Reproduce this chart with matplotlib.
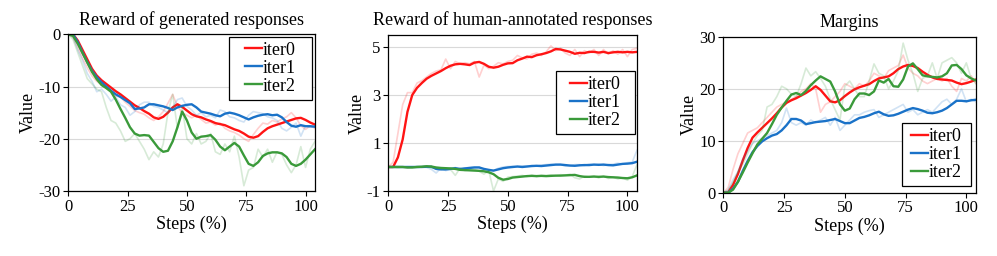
import numpy as np
import matplotlib
matplotlib.use("Agg")
import matplotlib.pyplot as plt

# steps (%) at which values were logged
steps = np.arange(0, 105, 2)

# --- Reward of generated responses ---
gen_iter0 = [0, 0, -1.2, -3.0, -4.8, -6.6, -7.9, -8.8, -9.5, -10.2, -10.9, -11.5, -12.2, -12.9, -13.6, -14.1,
             -14.7, -15.2, -15.9, -16.2, -15.8, -15.0, -14.0, -13.4, -13.9, -14.6, -15.3, -15.7, -15.9, -16.3,
             -16.6, -17.0, -17.2, -17.4, -17.8, -18.2, -18.5, -19.0, -19.6, -19.8, -19.5, -18.7, -18.0, -17.6,
             -17.3, -17.0, -16.7, -16.4, -16.1, -16.0, -16.4, -16.9, -17.3]
gen_iter1 = [0, 0, -1.5, -3.5, -5.3, -7.0, -8.2, -9.2, -10.0, -10.8, -11.5, -12.0, -12.6, -13.2, -14.3, -14.2,
             -14.0, -13.4, -13.4, -13.6, -13.8, -14.1, -14.5, -14.0, -13.7, -13.5, -13.4, -14.0, -14.8, -15.0,
             -15.2, -15.5, -15.7, -15.2, -15.0, -15.2, -15.5, -15.9, -16.3, -15.9, -15.6, -15.4, -15.3, -15.5,
             -15.4, -15.9, -16.8, -17.5, -17.7, -17.4, -17.6, -17.6, -17.7]
gen_iter2 = [0, -0.3, -1.8, -3.6, -5.4, -7.2, -8.6, -9.7, -10.3, -11.0, -12.5, -14.3, -16.0, -17.8, -19.0, -19.4,
             -19.3, -19.4, -20.6, -21.8, -22.5, -22.3, -20.5, -17.8, -14.8, -16.5, -18.8, -20.0, -19.6, -19.5,
             -19.3, -20.2, -21.5, -22.2, -21.5, -20.8, -21.5, -23.2, -24.8, -25.2, -24.5, -23.3, -22.8, -22.6,
             -22.6, -22.8, -23.5, -24.8, -25.2, -24.8, -24.0, -23.0, -22.0]
gen_iter0_raw = [0, -0.6, -2.5, -4.6, -6.4, -8.0, -9.0, -9.6, -10.3, -11.0, -11.8, -12.0, -13.0, -13.8, -14.6,
                 -15.0, -15.3, -16.0, -16.5, -15.8, -14.8, -13.2, -11.5, -13.8, -15.0, -15.5, -16.0, -15.5, -16.3,
                 -17.0, -16.8, -17.4, -17.0, -18.0, -18.5, -18.8, -19.3, -20.0, -20.5, -19.2, -18.0, -17.0, -17.2,
                 -16.5, -16.8, -16.2, -15.8, -15.0, -16.0, -17.5, -18.2, -17.5, -18.0]
gen_iter1_raw = [0, -0.5, -3.0, -5.0, -7.5, -9.0, -11.0, -10.5, -11.5, -12.8, -12.0, -13.5, -14.0, -15.5, -14.8,
                 -13.5, -13.0, -13.0, -13.8, -14.0, -14.5, -15.0, -14.0, -12.5, -12.2, -13.8, -14.5, -15.5, -15.0,
                 -15.8, -15.5, -16.0, -14.5, -14.8, -15.8, -16.0, -16.5, -16.8, -15.5, -14.8, -15.0, -15.2, -15.8,
                 -16.0, -16.5, -18.0, -18.5, -17.8, -17.0, -19.5, -17.5, -17.8, -17.5]
gen_iter2_raw = [0, -1.0, -3.5, -6.0, -8.5, -9.5, -10.5, -11.0, -14.0, -16.5, -17.0, -18.5, -20.5, -20.0, -19.0,
                 -20.5, -22.0, -24.0, -22.5, -23.5, -21.0, -15.0, -11.5, -18.0, -14.0, -20.0, -21.0, -19.0, -21.0,
                 -20.5, -19.0, -22.5, -23.0, -21.0, -22.5, -19.5, -23.5, -29.0, -26.0, -25.5, -22.0, -23.5, -22.0,
                 -24.5, -22.5, -23.0, -25.0, -26.5, -25.0, -21.5, -25.5, -22.0, -20.5]

# --- Reward of human-annotated responses ---
hum_iter0 = [0, 0, 0.4, 1.15, 2.3, 3.0, 3.3, 3.5, 3.68, 3.8, 3.9, 4.0, 4.12, 4.22, 4.28, 4.3, 4.28, 4.25, 4.35,
             4.38, 4.3, 4.18, 4.14, 4.18, 4.26, 4.32, 4.33, 4.45, 4.52, 4.6, 4.58, 4.66, 4.7, 4.75, 4.82, 4.92,
             4.9, 4.85, 4.8, 4.72, 4.76, 4.75, 4.8, 4.8, 4.77, 4.8, 4.75, 4.78, 4.8, 4.78, 4.8, 4.78, 4.8]
hum_iter1 = [0, 0, 0, 0, 0, 0, 0, 0, 0.01, 0.01, -0.08, -0.1, -0.1, -0.08, -0.05, -0.08, -0.06, -0.04, -0.02,
             -0.02, -0.08, -0.12, -0.15, -0.1, -0.05, -0.02, 0, 0.02, 0.0, 0.02, 0.04, 0.05, 0.04, 0.06, 0.08,
             0.1, 0.1, 0.08, 0.06, 0.05, 0.07, 0.08, 0.08, 0.1, 0.09, 0.1, 0.08, 0.07, 0.1, 0.13, 0.14, 0.16, 0.22]
hum_iter2 = [0, 0, 0, 0, -0.02, -0.02, 0, 0.01, 0.03, 0.02, -0.02, -0.04, -0.05, -0.06, -0.08, -0.12, -0.13,
             -0.14, -0.15, -0.16, -0.18, -0.22, -0.3, -0.45, -0.53, -0.5, -0.44, -0.42, -0.4, -0.38, -0.37, -0.38,
             -0.37, -0.38, -0.37, -0.36, -0.36, -0.35, -0.34, -0.33, -0.38, -0.41, -0.41, -0.4, -0.41, -0.4,
             -0.42, -0.43, -0.44, -0.46, -0.47, -0.43, -0.35]
hum_iter0_raw = [0, 0.2, 1.4, 2.6, 3.1, 3.1, 3.5, 3.6, 3.75, 3.9, 4.0, 4.05, 4.5, 4.1, 4.4, 4.3, 4.35, 4.3, 4.4,
                 3.75, 4.25, 4.1, 4.2, 4.35, 4.3, 4.4, 4.45, 4.65, 4.55, 4.5, 4.7, 4.75, 4.65, 4.8, 5.05, 4.85,
                 4.95, 4.75, 4.65, 4.9, 4.6, 4.85, 4.75, 4.9, 4.65, 4.9, 4.7, 4.85, 4.7, 4.9, 4.6, 4.9, 4.95]
hum_iter1_raw = [0, 0, 0.01, 0, -0.01, 0, 0.01, 0, -0.02, -0.1, -0.25, -0.05, -0.15, -0.1, -0.02, -0.12, -0.04,
                 -0.02, 0.0, 0.0, -0.12, -0.2, -0.15, -0.05, 0.0, 0.02, 0.03, 0.0, 0.05, 0.04, 0.06, 0.03, 0.08,
                 0.1, 0.12, 0.08, 0.1, 0.04, 0.05, 0.1, 0.1, 0.06, 0.12, 0.08, 0.11, 0.06, 0.1, 0.12, 0.16, 0.12,
                 0.18, 0.2, 0.7]
hum_iter2_raw = [0, 0, -0.02, 0, -0.03, 0, 0.02, 0.02, 0.04, -0.05, -0.05, -0.08, -0.05, -0.1, -0.35, -0.05,
                 -0.15, -0.12, -0.1, -0.18, -0.3, -0.15, -1.0, -0.5, -0.6, -0.42, -0.4, -0.38, -0.35, -0.4, -0.34,
                 -0.4, -0.35, -0.36, -0.33, -0.38, -0.32, -0.34, -0.3, -0.45, -0.5, -0.38, -0.42, -0.38, -0.46,
                 -0.38, -0.48, -0.42, -0.5, -0.45, -0.55, -0.4, 0.1]

# --- Margins ---
mar_iter0 = [0, 0.1, 1.5, 3.6, 6.2, 8.6, 10.6, 11.6, 12.5, 13.4, 14.3, 15.3, 16.4, 17.3, 17.8, 18.2, 18.7,
             19.2, 19.8, 20.5, 19.8, 18.7, 17.6, 17.4, 17.8, 18.6, 19.3, 19.9, 20.3, 20.6, 20.9, 21.5, 22.0,
             22.2, 22.4, 23.0, 23.8, 24.3, 24.6, 24.4, 24.0, 23.3, 22.7, 22.2, 21.9, 21.8, 21.7, 21.6, 21.2,
             20.9, 21.1, 21.4, 21.8]
mar_iter1 = [0, 0, 0.8, 2.1, 4.2, 6.1, 7.8, 9.0, 9.9, 10.5, 11.0, 11.3, 12.0, 13.0, 14.2, 14.2, 13.9, 13.2,
             13.4, 13.6, 13.7, 13.8, 14.0, 14.2, 13.8, 13.4, 13.4, 13.9, 14.4, 14.6, 14.9, 15.3, 15.6, 15.1,
             14.8, 14.9, 15.2, 15.6, 16.0, 16.3, 16.1, 15.8, 15.4, 15.3, 15.5, 15.8, 16.3, 17.0, 17.7, 17.7,
             17.6, 17.8, 17.9]
mar_iter2 = [0, 0, 0.6, 2.1, 3.9, 5.8, 7.6, 9.3, 10.4, 11.5, 13.2, 15.0, 16.4, 17.7, 18.9, 19.2, 18.8, 19.6,
             20.7, 21.6, 22.4, 21.9, 21.4, 19.5, 17.0, 15.8, 16.2, 18.0, 19.1, 19.1, 18.8, 19.5, 21.6, 21.2,
             21.9, 20.5, 20.4, 21.8, 24.3, 24.9, 23.8, 22.6, 22.4, 22.3, 22.2, 22.4, 23.0, 24.5, 24.6, 23.8,
             22.6, 22.0, 21.6]
mar_iter0_raw = [0, 1.0, 4.5, 7.5, 9.5, 11.5, 12.0, 12.5, 13.5, 14.5, 15.5, 16.5, 17.0, 17.5, 18.0, 18.5,
                 19.5, 20.0, 21.0, 20.0, 15.5, 17.0, 17.5, 18.5, 19.5, 21.0, 20.5, 20.0, 21.0, 20.5, 21.5, 23.0,
                 22.5, 22.0, 23.5, 24.0, 24.5, 26.5, 24.0, 23.0, 22.5, 21.5, 21.0, 21.5, 22.0, 21.5, 22.0, 20.5,
                 19.5, 22.0, 21.5, 22.5, 21.0]
mar_iter1_raw = [0, 0.5, 2.5, 4.0, 6.5, 8.0, 9.5, 10.0, 10.5, 11.0, 11.5, 12.0, 13.5, 16.3, 13.5, 13.0, 13.5,
                 13.0, 14.0, 13.5, 14.0, 14.5, 13.0, 14.5, 12.0, 13.0, 14.0, 15.0, 15.0, 15.5, 15.8, 16.0, 14.5,
                 15.0, 15.5, 16.0, 16.5, 17.0, 15.5, 16.0, 15.0, 15.5, 16.0, 15.5, 16.5, 17.5, 18.0, 17.0, 18.0,
                 20.0, 17.5, 18.0, 17.5]
mar_iter2_raw = [0, 0.5, 2.0, 4.0, 5.5, 7.5, 9.5, 11.0, 12.0, 16.5, 17.0, 18.5, 20.5, 20.0, 19.0, 18.5, 21.0,
                 24.0, 22.5, 23.3, 22.0, 20.5, 18.0, 16.0, 14.0, 20.5, 21.5, 20.0, 18.5, 18.5, 21.5, 24.8, 23.0,
                 22.5, 20.0, 21.5, 23.5, 28.8, 25.5, 23.0, 19.5, 22.0, 22.5, 25.0, 22.0, 25.0, 25.5, 26.0, 25.0,
                 23.0, 25.0, 22.0, 21.0]

labels = ["iter0", "iter1", "iter2"]
colors = ["#ff1414", "#1a72c8", "#3a9a3a"]

LEG_FS = 13


def draw_panel(ax, title, smooth, raw, ylim, yticks, loc, anchor, side_pad):
    for s, r, c, lab in zip(smooth, raw, colors, labels):
        ax.plot(steps, r, color=c, lw=1.2, alpha=0.2)
        ax.plot(steps, s, color=c, lw=1.7, label=lab)
    ax.set_xlim(0, 104)
    ax.set_ylim(*ylim)
    ax.set_xticks([0, 25, 50, 75, 100])
    ax.set_yticks(yticks)
    ax.yaxis.grid(True, color="#d9d9d9", lw=0.8)
    ax.set_axisbelow(True)
    ax.tick_params(direction="out", length=3.5, width=0.8, labelsize=12, pad=2)
    for sp in ax.spines.values():
        sp.set_linewidth(0.9)
    ax.set_title(title, fontsize=13, pad=7)
    ax.set_xlabel("Steps (%)", fontsize=13, labelpad=1)
    ax.set_ylabel("Value", fontsize=13, labelpad=1)
    leg = ax.legend(fontsize=LEG_FS, frameon=True, fancybox=False, edgecolor="black",
                    handlelength=0.95, handletextpad=0.05, labelspacing=0.05,
                    borderpad=0.12, borderaxespad=0, framealpha=1,
                    loc=loc, bbox_to_anchor=anchor)
    # wider side padding than top/bottom, like the original
    fs_px = LEG_FS * 100 / 72
    frame = leg.get_frame()
    frame.set_linewidth(0.9)
    frame.set_boxstyle("square", pad=side_pad / fs_px)
    frame.set_mutation_aspect(3.0 / side_pad)


def main():
    plt.rcParams["font.family"] = ["Liberation Serif", "DejaVu Serif"]
    plt.rcParams["axes.unicode_minus"] = False
    fig = plt.figure(figsize=(9.97, 2.56), dpi=100)
    ax1 = fig.add_axes([0.0685, 0.254, 0.2475, 0.612])
    ax2 = fig.add_axes([0.3895, 0.254, 0.2494, 0.609])
    ax3 = fig.add_axes([0.7255, 0.247, 0.2535, 0.609])

    draw_panel(ax1, "Reward of generated responses",
               [gen_iter0, gen_iter1, gen_iter2], [gen_iter0_raw, gen_iter1_raw, gen_iter2_raw],
               (-30, 0), [-30, -20, -10, 0], "upper right", (0.932, 0.966), 14)
    draw_panel(ax2, "Reward of human-annotated responses",
               [hum_iter0, hum_iter1, hum_iter2], [hum_iter0_raw, hum_iter1_raw, hum_iter2_raw],
               (-1, 5.5), [-1, 1, 3, 5], "center right", (0.944, 0.565), 12)
    draw_panel(ax3, "Margins",
               [mar_iter0, mar_iter1, mar_iter2], [mar_iter0_raw, mar_iter1_raw, mar_iter2_raw],
               (0, 30), [0, 10, 20, 30], "lower right", (0.9525, 0.062), 7)

    fig.savefig("out.png", dpi=100)


if __name__ == "__main__":
    main()
